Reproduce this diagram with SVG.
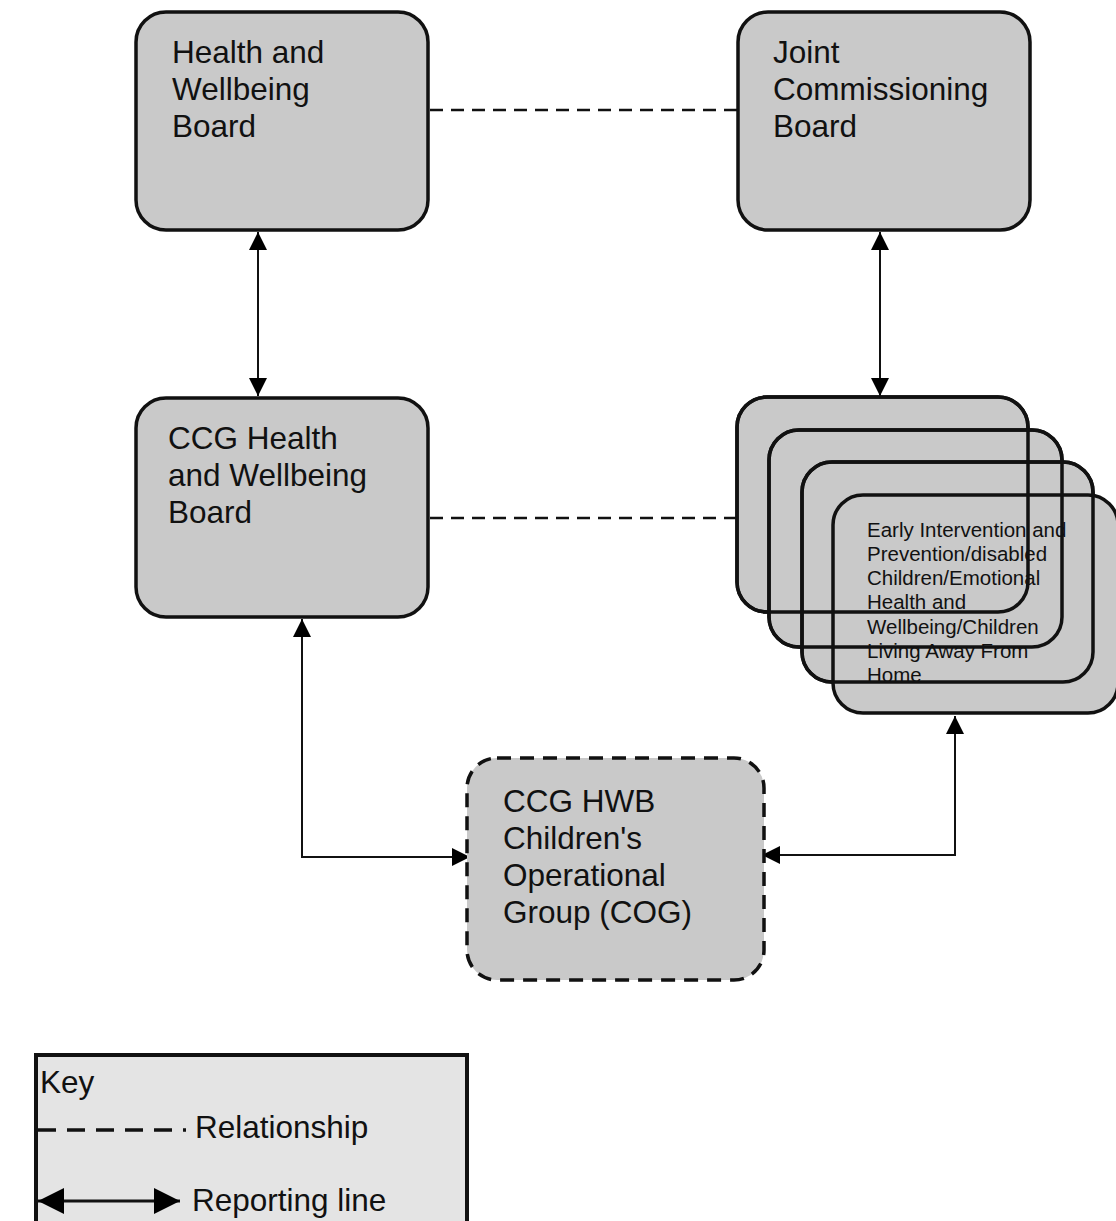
<svg xmlns="http://www.w3.org/2000/svg" width="1116" height="1221" viewBox="0 0 1116 1221">
<defs>
<marker id="ah" viewBox="0 0 10 10" refX="10" refY="5" markerWidth="18" markerHeight="18" markerUnits="userSpaceOnUse" orient="auto-start-reverse">
<path d="M0,0 L10,5 L0,10 Z" fill="#000"/>
</marker>
<marker id="ahk" viewBox="0 0 10 10" refX="10" refY="5" markerWidth="26" markerHeight="26" markerUnits="userSpaceOnUse" orient="auto-start-reverse">
<path d="M0,0 L10,5 L0,10 Z" fill="#000"/>
</marker>
</defs>
<style>
.box{fill:#c9c9c9;stroke:#111;stroke-width:3.5}
.outline{fill:none;stroke:#111;stroke-width:3.5}
.dbox{fill:#c9c9c9;stroke:#111;stroke-width:3.5;stroke-dasharray:14,9}
.t{font-family:"Liberation Sans",Arial,sans-serif;font-size:31.5px;fill:#111}
.ts{font-family:"Liberation Sans",Arial,sans-serif;font-size:20.5px;fill:#111}
.rel{stroke:#111;stroke-width:2.5;stroke-dasharray:13,8;fill:none}
.rep{stroke:#111;stroke-width:2;fill:none;marker-start:url(#ah);marker-end:url(#ah)}
</style>
<rect width="1116" height="1221" fill="#fff"/>
<g id="connectors">
<line class="rel" x1="430" y1="110" x2="738" y2="110"/>
<line class="rel" x1="430" y1="518" x2="737" y2="518"/>
<line class="rep" x1="258" y1="232" x2="258" y2="396"/>
<line class="rep" x1="880" y1="232" x2="880" y2="396"/>
<polyline class="rep" points="302,619 302,857 470,857"/>
<polyline class="rep" points="955,716 955,855 762,855"/>
</g>
<g id="hwb">
<rect class="box" x="136" y="12" width="292" height="218" rx="30"/>
<text class="t" x="172" y="63">Health and</text>
<text class="t" x="172" y="100">Wellbeing</text>
<text class="t" x="172" y="137">Board</text>
</g>
<g id="jcb">
<rect class="box" x="738" y="12" width="292" height="218" rx="30"/>
<text class="t" x="773" y="63">Joint</text>
<text class="t" x="773" y="100">Commissioning</text>
<text class="t" x="773" y="137">Board</text>
</g>
<g id="ccg-hwb">
<rect class="box" x="136" y="398" width="292" height="219" rx="30"/>
<text class="t" x="168" y="449">CCG Health</text>
<text class="t" x="168" y="486">and Wellbeing</text>
<text class="t" x="168" y="523">Board</text>
</g>
<g id="workstreams">
<rect class="box" x="737" y="397" width="291" height="215" rx="30"/>
<rect class="box" x="769" y="430" width="293" height="217" rx="30"/>
<rect class="box" x="802" y="462" width="291" height="220" rx="30"/>
<rect class="box" x="833" y="495" width="285" height="218" rx="30"/>
<rect class="outline" x="737" y="397" width="291" height="215" rx="30"/>
<rect class="outline" x="769" y="430" width="293" height="217" rx="30"/>
<rect class="outline" x="802" y="462" width="291" height="220" rx="30"/>
<text class="ts" x="867" y="537">Early Intervention and</text>
<text class="ts" x="867" y="561">Prevention/disabled</text>
<text class="ts" x="867" y="585">Children/Emotional</text>
<text class="ts" x="867" y="609">Health and</text>
<text class="ts" x="867" y="634">Wellbeing/Children</text>
<text class="ts" x="867" y="658">Living Away From</text>
<text class="ts" x="867" y="682">Home</text>
</g>
<g id="cog">
<rect class="dbox" x="467" y="758" width="297" height="222" rx="30"/>
<text class="t" x="503" y="812">CCG HWB</text>
<text class="t" x="503" y="849">Children's</text>
<text class="t" x="503" y="886">Operational</text>
<text class="t" x="503" y="923">Group (COG)</text>
</g>
<g id="key">
<rect x="36" y="1055" width="431" height="180" fill="#e4e4e4" stroke="#111" stroke-width="4"/>
<text class="t" x="40" y="1093">Key</text>
<line x1="38" y1="1130" x2="186" y2="1130" stroke="#111" stroke-width="3.5" stroke-dasharray="18,11"/>
<text class="t" x="195" y="1138">Relationship</text>
<line x1="38" y1="1201" x2="180" y2="1201" stroke="#111" stroke-width="3" marker-start="url(#ahk)" marker-end="url(#ahk)"/>
<text class="t" x="192" y="1211">Reporting line</text>
</g>
</svg>
